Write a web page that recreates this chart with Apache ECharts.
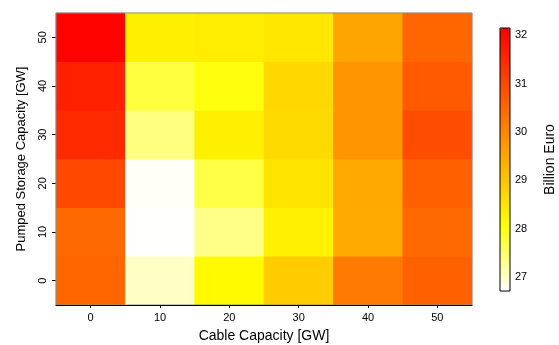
<!DOCTYPE html>
<html><head><meta charset="utf-8">
<script src="https://cdn.jsdelivr.net/npm/echarts@6/dist/echarts.min.js"></script>
<style>html,body{margin:0;padding:0;background:#fff}#c{width:559px;height:345px}</style>
</head><body><div id="c"></div>
<script>
// Categories
const cableCapacity = ['0', '10', '20', '30', '40', '50'];   // x axis [GW]
const storageCapacity = ['0', '10', '20', '30', '40', '50']; // y axis [GW]
// Cost in Billion Euro, one array per pumped storage capacity, ordered by cable capacity
const cost_storage0  = [30.52, 27.02, 28.15, 28.89, 30.20, 30.60];
const cost_storage10 = [30.45, 26.72, 27.35, 28.30, 29.43, 30.45];
const cost_storage20 = [30.99, 26.75, 27.70, 28.50, 29.45, 30.60];
const cost_storage30 = [31.48, 27.39, 28.31, 28.66, 29.77, 30.92];
const cost_storage40 = [31.64, 27.73, 28.00, 28.69, 29.77, 30.71];
const cost_storage50 = [32.10, 28.31, 28.35, 28.45, 29.51, 30.52];
// Colour bar
const colorMin = 26.71;
const colorMax = 32.15;
const colorTicks = [27, 28, 29, 30, 31, 32];

const rows = [cost_storage0, cost_storage10, cost_storage20, cost_storage30, cost_storage40, cost_storage50];
const data = [];
rows.forEach((row, yi) => row.forEach((v, xi) => data.push([xi, yi, v])));

const font = 'Liberation Sans';
const chart = echarts.init(document.getElementById('c'), null, {renderer: 'canvas'});
chart.setOption({
  animation: false,
  textStyle: {fontFamily: font, color: '#000'},
  grid: [
    {left: 56, top: 13, width: 416, height: 292, show: true, borderColor: '#8c8c8c', borderWidth: 1, backgroundColor: 'transparent', z: 5, outerBoundsMode: 'none', containLabel: false},
    {left: 500, top: 28, width: 10, height: 263, show: true, borderColor: '#000', borderWidth: 1, backgroundColor: 'transparent', z: 10, outerBoundsMode: 'none', containLabel: false}
  ],
  xAxis: [
    {type: 'category', gridIndex: 0, data: cableCapacity,
     name: 'Cable Capacity [GW]', nameLocation: 'middle', nameGap: 24,
     nameTextStyle: {fontSize: 14, fontFamily: font, color: '#000'},
     axisLine: {show: true, lineStyle: {color: '#000', width: 1}},
     axisTick: {show: true, alignWithLabel: true, length: 3, lineStyle: {color: '#000'}},
     axisLabel: {fontSize: 11, fontFamily: font, color: '#000', margin: 7},
     splitLine: {show: false}, z: 6},
    {type: 'value', gridIndex: 1, show: false, min: 0, max: 1}
  ],
  yAxis: [
    {type: 'category', gridIndex: 0, data: storageCapacity,
     name: 'Pumped Storage Capacity [GW]', nameLocation: 'middle', nameGap: 28, nameRotate: 90,
     nameTextStyle: {fontSize: 13, fontFamily: font, color: '#000'},
     axisLine: {show: false},
     axisTick: {show: true, alignWithLabel: true, length: 4, lineStyle: {color: '#000'}},
     axisLabel: {fontSize: 11, fontFamily: font, color: '#000', rotate: 90, margin: 8},
     splitLine: {show: false}},
    {type: 'value', gridIndex: 1, position: 'right', min: colorMin, max: colorMax,
     name: 'Billion Euro', nameLocation: 'middle', nameGap: 33, nameRotate: 90,
     nameTextStyle: {fontSize: 14, fontFamily: font, color: '#000'},
     axisLine: {show: false},
     axisTick: {show: true, length: 3, inside: false, customValues: colorTicks, lineStyle: {color: '#000'}},
     axisLabel: {fontSize: 11, fontFamily: font, color: '#000', margin: 5, customValues: colorTicks},
     splitLine: {show: false}}
  ],
  visualMap: {
    type: 'continuous', seriesIndex: 0, min: colorMin, max: colorMax,
    left: 500, top: 28, itemWidth: 10, itemHeight: 263, padding: 0,
    calculable: false, showLabel: false, text: null, orient: 'vertical',
    inRange: {color: ['#ffffff', '#ffff00', '#ffaa00', '#ff5500', '#ff0000']}
  },
  series: [{
    type: 'heatmap', xAxisIndex: 0, yAxisIndex: 0, data: data,
    itemStyle: {borderWidth: 0}, emphasis: {disabled: true}
  }]
});
</script></body></html>
